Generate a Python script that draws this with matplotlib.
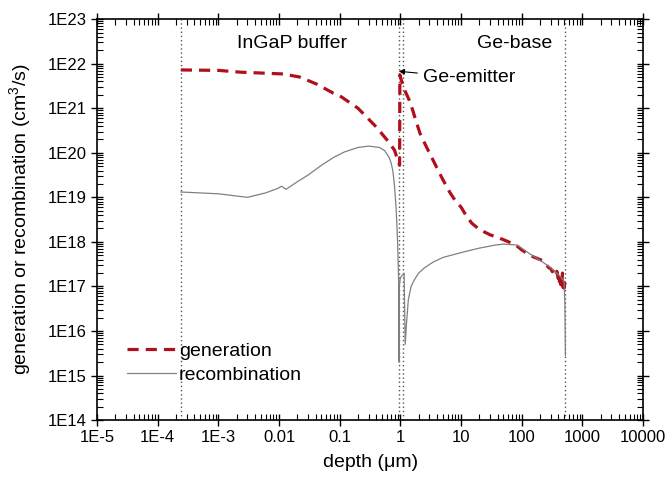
import numpy as np
import matplotlib
matplotlib.use("Agg")
import matplotlib.pyplot as plt
from matplotlib.ticker import LogLocator, NullFormatter

plt.rcParams["font.family"] = ["Liberation Sans", "DejaVu Sans"]
plt.rcParams["mathtext.fontset"] = "custom"
plt.rcParams["mathtext.rm"] = "Liberation Sans"

# generation rate (depth in um, log10 of rate)
gen_depth = [2.4e-4, 1e-3, 2.3e-3, 0.0116, 0.022, 0.042, 0.078, 0.1, 0.2, 0.4, 0.6,
             0.8, 0.9, 0.97, 0.98, 1.0, 1.12, 1.2, 1.4, 1.6, 1.8, 2.1, 2.5, 3.0,
             3.5, 4.0, 5.0, 6.6, 8.0, 10, 12, 15, 20, 30,
             50, 80, 100, 140, 220, 280, 300, 320, 340, 360, 380, 400, 410, 420,
             430, 440, 450, 460, 470, 480, 490, 500, 510, 520]
gen_log = [21.86, 21.85, 21.81, 21.77, 21.70, 21.54, 21.34, 21.28, 21.0, 20.58, 20.29,
           20.06, 19.84, 19.72, 21.75, 21.70, 21.48, 21.38, 21.18, 20.95, 20.72,
           20.44, 20.22, 20.0, 19.82, 19.66, 19.4, 19.1, 18.93, 18.78, 18.6, 18.42,
           18.28, 18.16, 18.05, 17.93, 17.82, 17.69, 17.58, 17.42, 17.40,
           17.33, 17.38, 17.26, 17.34, 17.18, 17.30, 17.10, 17.26, 17.04, 17.22,
           17.08, 17.30, 16.98, 17.18, 16.96, 17.14, 17.04]

# recombination rate
rec_depth = [2.4e-4, 1e-3, 3e-3, 6e-3, 0.0095, 0.011, 0.013, 0.02, 0.03, 0.05, 0.08,
             0.12, 0.2, 0.3, 0.45, 0.55, 0.65, 0.7, 0.75, 0.8, 0.85, 0.88, 0.9,
             0.94, 0.95, 0.96, 1.0, 1.15, 1.2, 1.25, 1.35, 1.5, 1.7, 2.0, 2.5,
             3.5, 5, 10.7, 20, 37, 50, 84, 140, 220, 300, 450, 500, 515, 525]
rec_log = [19.12, 19.08, 19.0, 19.1, 19.2, 19.25, 19.18, 19.35, 19.5, 19.72, 19.9,
           20.02, 20.12, 20.15, 20.12, 20.05, 19.9, 19.78, 19.6, 19.25, 18.75,
           18.3, 18.0, 17.0, 15.3, 17.0, 17.2, 17.3, 15.7, 16.1, 16.7, 17.0, 17.15,
           17.3, 17.42, 17.55, 17.65, 17.77, 17.86, 17.93, 17.95, 17.93, 17.72,
           17.55, 17.42, 17.2, 17.1, 16.6, 15.45]

# layer boundaries
boundaries = [2.4e-4, 0.95, 1.12, 525]

xticks = [1e-5, 1e-4, 1e-3, 1e-2, 0.1, 1, 10, 100, 1000, 10000]
xlabels = ["1E-5", "1E-4", "1E-3", "0.01", "0.1", "1", "10", "100", "1000", "10000"]
yticks = [10.0 ** k for k in range(14, 24)]
ylabels = ["1E%d" % k for k in range(14, 24)]

fig = plt.figure(figsize=(6.65, 4.79), dpi=100)
ax = fig.add_axes([0.146, 0.123, 0.821, 0.837])

for b in boundaries:
    ax.axvline(b, color="#555555", linestyle=(0, (1, 2)), linewidth=1.0)

ax.plot(gen_depth, 10.0 ** np.array(gen_log), color="#b0101c", linewidth=2.3,
        dashes=(3.5, 2.2), label="generation")
ax.plot(rec_depth, 10.0 ** np.array(rec_log), color="#808080", linewidth=0.9,
        label="recombination")

ax.set_xscale("log")
ax.set_yscale("log")
ax.set_xlim(1e-5, 1e4)
ax.set_ylim(1e14, 1e23)
ax.set_xticks(xticks)
ax.set_xticklabels(xlabels)
ax.set_yticks(yticks)
ax.set_yticklabels(ylabels)
ax.xaxis.set_minor_locator(LogLocator(base=10, subs=np.arange(2, 10), numticks=20))
ax.yaxis.set_minor_locator(LogLocator(base=10, subs=np.arange(2, 10), numticks=20))
ax.xaxis.set_minor_formatter(NullFormatter())
ax.yaxis.set_minor_formatter(NullFormatter())
ax.tick_params(which="major", direction="inout", length=8, width=1, labelsize=12,
               top=True, right=True)
ax.tick_params(which="minor", direction="in", length=4, width=0.8, top=True, right=True)
for s in ax.spines.values():
    s.set_linewidth(1.2)

ax.set_xlabel("depth (\u03bcm)", fontsize=14, labelpad=6)
ax.set_ylabel("generation or recombination (cm$^3$/s)", fontsize=14, labelpad=10)

ax.text(2.04e-3, 10 ** 22.45, "InGaP buffer", fontsize=14, va="center")
ax.text(18, 10 ** 22.45, "Ge-base", fontsize=14, va="center")
ax.annotate("Ge-emitter", xy=(0.94, 10 ** 21.83), xytext=(2.35, 10 ** 21.68),
            fontsize=14, va="center",
            arrowprops=dict(arrowstyle="-|>", color="black", lw=0.8,
                            shrinkA=2, shrinkB=0, mutation_scale=8))

ax.legend(loc="lower left", bbox_to_anchor=(0.055, 0.09), frameon=False,
          fontsize=14, handlelength=2.5, handletextpad=0.15, labelspacing=0.35,
          borderpad=0, borderaxespad=0)

fig.savefig("out.png", dpi=100)
